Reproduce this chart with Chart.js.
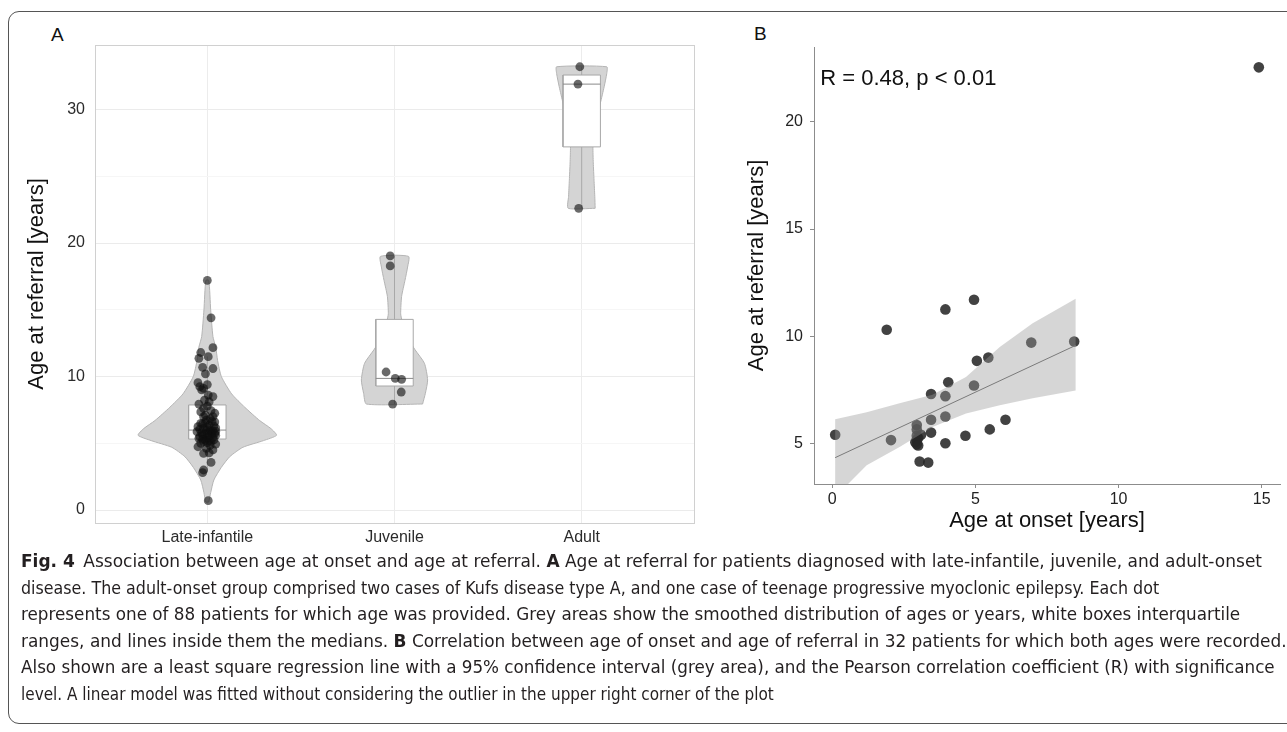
<!DOCTYPE html>
<html>
<head>
<meta charset="utf-8">
<script src="https://cdn.jsdelivr.net/npm/chart.js@4.4.1/dist/chart.umd.min.js"></script>
<style>
  body { margin: 0; width: 1287px; height: 732px; overflow: hidden; background: #fff;
         font-family: "Liberation Sans", Arial, sans-serif; position: relative; }
  #frame { position: absolute; left: 8px; top: 11px; width: 1310px; height: 711px;
           border: 1.3px solid #555; border-radius: 11px; }
  .panel { position: absolute; top: 0; }
  .lab { position: absolute; font-size: 19px; color: #111; line-height: 19px; }
  #caption { position: absolute; left: 21px; top: 548px; color: #231f20;
             font-family: "Liberation Sans Narrow", "DejaVu Sans Condensed", "Liberation Sans", sans-serif;
             font-size: 18px; }
  #caption div { white-space: nowrap; height: 26.6px; line-height: 26.6px; transform-origin: 0 50%; }
  #caption span { display: inline-block; }
</style>
</head>
<body>
<div id="frame"></div>
<div class="lab" style="left:51px;top:25px">A</div>
<div class="lab" style="left:754px;top:24px">B</div>
<canvas id="violin" class="panel" style="left:0px" width="720" height="560"></canvas>
<canvas id="onset" class="panel" style="left:740px" width="547" height="540"></canvas>
<div id="caption">
  <div><span><b>Fig. 4</b>&ensp;Association between age at onset and age at referral. <b>A</b> Age at referral for patients diagnosed with late-infantile, juvenile, and adult-onset</span></div>
  <div><span>disease. The adult-onset group comprised two cases of Kufs disease type A, and one case of teenage progressive myoclonic epilepsy. Each dot</span></div>
  <div><span>represents one of 88 patients for which age was provided. Grey areas show the smoothed distribution of ages or years, white boxes interquartile</span></div>
  <div><span>ranges, and lines inside them the medians. <b>B</b> Correlation between age of onset and age of referral in 32 patients for which both ages were recorded.</span></div>
  <div><span>Also shown are a least square regression line with a 95% confidence interval (grey area), and the Pearson correlation coefficient (R) with significance</span></div>
  <div><span>level. A linear model was fitted without considering the outlier in the upper right corner of the plot</span></div>
</div>
<script>
// ---- panel A : age at referral per onset group ----
var groups = ['Late-infantile', 'Juvenile', 'Adult'];

// individual ages (years) and horizontal jitter
var lateAges = [17.2, 14.4, 12.16, 11.8, 11.36, 11.49, 10.69, 10.6, 9.54, 9.24, 9.11, 9.0, 8.61, 8.24, 8.11,
  7.94, 7.79, 7.44, 7.62, 6.99, 6.99, 6.74, 6.49, 6.37, 6.24, 6.12, 5.94, 5.74, 5.87, 5.62, 5.74, 5.37,
  5.24, 5.12, 5.0, 4.94, 4.74, 4.62, 4.24, 4.29, 3.57, 3.0, 2.8, 0.7, 6.85, 6.6, 6.55, 6.3, 6.2, 6.05,
  6.0, 5.95, 5.85, 5.8, 5.7, 5.65, 5.55, 5.5, 5.45, 5.4, 5.3, 5.25, 5.2, 5.15, 5.05, 5.9, 6.15, 6.45,
  7.1, 7.25, 7.35, 6.65, 5.6, 4.85, 4.5, 8.5, 9.4, 10.2];
var lateJitter = [0, 0.02, 0.03, -0.035, -0.045, 0.005, -0.025, 0.03, -0.05, -0.04, -0.02, -0.03, 0.005, -0.015, 0.01,
  -0.045, 0, 0.02, -0.02, 0.03, -0.02, -0.005, -0.035, 0.01, -0.05, -0.02, 0.03, 0.04, -0.055, -0.025, 0, -0.045,
  -0.01, 0.02, -0.035, 0.045, -0.05, -0.005, -0.02, 0.01, 0.02, -0.02, -0.025, 0.005, 0.015, 0.04, -0.01, 0.035, 0, -0.04,
  0.015, -0.005, 0.02, -0.03, 0.025, -0.015, 0.01, -0.04, 0.03, 0, -0.025, 0.035, 0.01, -0.02, 0, 0.045, 0.045, -0.025,
  -0.01, 0.04, -0.035, 0.025, 0.045, 0.015, 0.03, 0.03, 0, -0.01];
var juvAges = [19.03, 18.28, 10.34, 9.86, 9.79, 8.84, 7.94];
var juvJitter = [-0.023, -0.023, -0.045, 0.004, 0.038, 0.036, -0.01];
var adultAges = [33.2, 31.9, 22.6];
var adultJitter = [-0.01, -0.02, -0.016];

// box plot summaries
var boxQ1 = [5.32, 9.29, 27.2];
var boxMedian = [5.99, 9.86, 31.9];
var boxQ3 = [7.87, 14.28, 32.58];
var whiskerLow = [2.8, 7.94, 22.6];
var whiskerHigh = [11.5, 19.0, 33.2];

// smoothed density: half-width of each violin at given ages
var lateDensAge = [0.6, 1.3, 2.25, 3.2, 4.0, 4.7, 5.2, 5.6, 6.1, 6.7, 7.7, 8.7, 10.0, 11.2, 12.2, 13.0, 15.0, 17.2];
var lateDensW = [0.008, 0.018, 0.035, 0.075, 0.12, 0.19, 0.30, 0.37, 0.34, 0.28, 0.20, 0.13, 0.075, 0.055, 0.045, 0.03, 0.018, 0.008];
var juvDensAge = [7.94, 8.74, 9.74, 10.99, 12.0, 12.8, 13.5, 14.2, 14.7, 16.0, 17.2, 18.2, 19.0];
var juvDensW = [0.15, 0.165, 0.177, 0.16, 0.11, 0.075, 0.055, 0.04, 0.033, 0.038, 0.056, 0.07, 0.075];
var adultDensAge = [22.6, 23.5, 24.7, 26.0, 27.2, 28.5, 29.5, 30.5, 31.7, 32.7, 33.2];
var adultDensW = [0.072, 0.07, 0.066, 0.062, 0.06, 0.065, 0.08, 0.1, 0.12, 0.134, 0.134];

var yTicksA = [0, 5, 10, 15, 20, 25, 30];

// ---- panel B : age at onset vs age at referral ----
var onsetAge = [0.1, 2.05, 1.9, 2.95, 2.95, 2.95, 2.95, 2.95, 3.1, 3.45, 3.45, 3.45, 3.05, 3.35, 3.95, 3.95,
  3.95, 4.05, 3.95, 4.65, 4.95, 4.95, 5.05, 5.45, 5.5, 6.05, 6.95, 8.45, 2.9, 3.0, 3.0, 14.9];
var referralAge = [5.4, 5.15, 10.3, 5.85, 5.65, 5.35, 5.15, 4.95, 5.4, 5.5, 6.1, 7.3, 4.15, 4.1, 6.25, 7.2,
  5.0, 7.85, 11.25, 5.35, 7.7, 11.7, 8.85, 9.0, 5.65, 6.1, 9.7, 9.75, 5.05, 5.25, 4.9, 22.55];
var fitOnset = [0.1, 8.5];
var fitReferral = [4.33, 9.57];
var bandOnset = [0.1, 1.2, 2.35, 3.5, 4.67, 5.85, 7.0, 8.5];
var bandUpper = [6.12, 6.45, 6.87, 7.27, 8.1, 9.49, 10.6, 11.75];
var bandLower = [2.5, 3.97, 4.83, 5.76, 6.39, 6.78, 7.1, 7.46];
var xTicksB = [0, 5, 10, 15];
var yTicksB = [5, 10, 15, 20];
var corrText = 'R = 0.48, p < 0.01';

var FONT = '"Liberation Sans", Arial, sans-serif';
var boxHalf = 0.1;

function violinShape(pos, ages, widths) {
  var right = ages.map(function (a, i) { return {x: pos + widths[i], y: a}; });
  var left = ages.map(function (a, i) { return {x: pos - widths[i], y: a}; }).reverse();
  var pts = right.concat(left);
  pts.push(pts[0]);
  return pts;
}

function boxShape(i) {
  var p = i + 1;
  return [{x: p - boxHalf, y: boxQ1[i]}, {x: p + boxHalf, y: boxQ1[i]}, {x: p + boxHalf, y: boxQ3[i]},
          {x: p - boxHalf, y: boxQ3[i]}, {x: p - boxHalf, y: boxQ1[i]}];
}

var densAges = [lateDensAge, juvDensAge, adultDensAge];
var densW = [lateDensW, juvDensW, adultDensW];
var ages = [lateAges, juvAges, adultAges];
var jitter = [lateJitter, juvJitter, adultJitter];

var datasetsA = [];
groups.forEach(function (g, i) {
  datasetsA.push({
    type: 'line', order: 4, data: violinShape(i + 1, densAges[i], densW[i]),
    fill: 'shape', backgroundColor: '#d4d4d4', borderColor: '#b4b4b4', borderWidth: 1,
    pointRadius: 0, tension: 0.2
  });
  datasetsA.push({
    type: 'line', order: 3, data: [{x: i + 1, y: whiskerLow[i]}, {x: i + 1, y: whiskerHigh[i]}],
    borderColor: '#a8a8a8', borderWidth: 1, pointRadius: 0, fill: false
  });
  datasetsA.push({
    type: 'line', order: 2, data: boxShape(i),
    fill: 'shape', backgroundColor: '#ffffff', borderColor: '#a8a8a8', borderWidth: 1, pointRadius: 0
  });
  datasetsA.push({
    type: 'line', order: 1, data: [{x: i + 1 - boxHalf, y: boxMedian[i]}, {x: i + 1 + boxHalf, y: boxMedian[i]}],
    borderColor: '#8a8a8a', borderWidth: 1, pointRadius: 0, fill: false
  });
  datasetsA.push({
    type: 'scatter', order: 0,
    data: ages[i].map(function (a, k) { return {x: i + 1 + jitter[i][k], y: a}; }),
    pointRadius: 4.4, pointBorderWidth: 0, pointBackgroundColor: 'rgba(15,15,15,0.62)'
  });
});

var chartA = new Chart(document.getElementById('violin'), {
  type: 'scatter',
  data: { datasets: datasetsA },
  options: {
    responsive: false, animation: false,
    layout: { padding: { top: 45, right: 26, left: 0, bottom: 0 } },
    plugins: { legend: { display: false }, tooltip: { enabled: false } },
    scales: {
      x: {
        type: 'linear', min: 0.4, max: 3.6,
        afterBuildTicks: function (s) { s.ticks = groups.map(function (g, i) { return {value: i + 1}; }); },
        afterFit: function (s) { s.height = 37; },
        ticks: { autoSkip: false, maxRotation: 0, padding: 5, color: '#2b2b2b', font: { family: FONT, size: 16 },
                 callback: function (v) { return groups[v - 1]; } },
        grid: { color: '#ececec', drawTicks: false },
        border: { color: '#d0d0d0' }
      },
      y: {
        type: 'linear', min: -0.97, max: 34.83,
        afterBuildTicks: function (s) { s.ticks = yTicksA.map(function (v) { return {value: v}; }); },
        afterFit: function (s) { s.width = 95; },
        ticks: { autoSkip: false, padding: 10, color: '#2b2b2b', font: { family: FONT, size: 16 },
                 callback: function (v) { return v % 10 === 0 ? v : ''; } },
        grid: { drawTicks: false, color: function (c) { return c.tick && c.tick.value % 10 === 0 ? '#ebebeb' : '#f6f6f6'; } },
        border: { color: '#d0d0d0' },
        title: { display: true, text: 'Age at referral [years]', color: '#111',
                 font: { family: FONT, size: 22 }, padding: { top: 24, bottom: 0 } }
      },
      x2: {
        type: 'linear', position: 'top', min: 0, max: 1,
        ticks: { display: false }, grid: { drawOnChartArea: false, drawTicks: false },
        border: { color: '#d0d0d0' }, afterFit: function (s) { s.height = 0; }
      },
      y2: {
        type: 'linear', position: 'right', min: 0, max: 1,
        ticks: { display: false }, grid: { drawOnChartArea: false, drawTicks: false },
        border: { color: '#d0d0d0' }, afterFit: function (s) { s.width = 0; }
      }
    }
  }
});

// ---- panel B chart ----
var corrLabel = {
  id: 'corrLabel',
  afterDatasetsDraw: function (chart) {
    var ctx = chart.ctx;
    ctx.save();
    ctx.font = '22px ' + FONT;
    ctx.fillStyle = '#111';
    ctx.textBaseline = 'middle';
    ctx.fillText(corrText, chart.scales.x.getPixelForValue(-0.42), chart.scales.y.getPixelForValue(22.0));
    ctx.restore();
  }
};

var band = bandOnset.map(function (x, i) { return {x: x, y: bandUpper[i]}; })
  .concat(bandOnset.map(function (x, i) { return {x: x, y: bandLower[i]}; }).reverse());

var chartB = new Chart(document.getElementById('onset'), {
  type: 'scatter',
  data: {
    datasets: [{
      type: 'line', order: 0,
      data: fitOnset.map(function (x, i) { return {x: x, y: fitReferral[i]}; }),
      borderColor: '#7a7a7a', borderWidth: 1, pointRadius: 0, fill: false
    }, {
      type: 'line', order: 1, data: band, fill: 'shape',
      backgroundColor: 'rgba(153,153,153,0.4)', borderWidth: 0, pointRadius: 0
    }, {
      type: 'scatter', order: 2,
      data: onsetAge.map(function (x, i) { return {x: x, y: referralAge[i]}; }),
      pointRadius: 5.3, pointBorderWidth: 0, pointBackgroundColor: 'rgba(40,40,40,0.88)'
    }]
  },
  options: {
    responsive: false, animation: false,
    layout: { padding: { top: 47, right: 7, left: 0, bottom: 0 } },
    plugins: { legend: { display: false }, tooltip: { enabled: false } },
    scales: {
      x: {
        type: 'linear', min: -0.64, max: 15.64,
        afterBuildTicks: function (s) { s.ticks = xTicksB.map(function (v) { return {value: v}; }); },
        afterFit: function (s) { s.height = 56; },
        ticks: { autoSkip: false, maxRotation: 0, padding: 2, color: '#222', font: { family: FONT, size: 16 } },
        grid: { drawOnChartArea: false, tickLength: 4, color: '#8c8c8c' },
        border: { color: '#8c8c8c' },
        title: { display: true, text: 'Age at onset [years]', color: '#111',
                 font: { family: FONT, size: 22 }, padding: { top: 0, bottom: 6 } }
      },
      y: {
        type: 'linear', min: 3.1, max: 23.5,
        afterBuildTicks: function (s) { s.ticks = yTicksB.map(function (v) { return {value: v}; }); },
        afterFit: function (s) { s.width = 74; },
        ticks: { autoSkip: false, padding: 7, color: '#222', font: { family: FONT, size: 16 } },
        grid: { drawOnChartArea: false, tickLength: 4, color: '#8c8c8c' },
        border: { color: '#8c8c8c' },
        title: { display: true, text: 'Age at referral [years]', color: '#111',
                 font: { family: FONT, size: 22 }, padding: { top: 4, bottom: 0 } }
      }
    }
  },
  plugins: [corrLabel]
});

// squeeze caption lines towards the widths they have in the printed caption,
// keeping the squeeze close to uniform so the letters look alike
var capEnds = [1241, 1064, 1205, 1262, 1237, 676];
var capRows = document.querySelectorAll('#caption div');
var widths = [];
capRows.forEach(function (d) { widths.push(d.querySelector('span').getBoundingClientRect().width); });
var uniform = capEnds[0] / widths[0];
capRows.forEach(function (d, i) {
  var k = Math.sqrt(uniform * capEnds[i] / widths[i]);
  d.style.transform = 'scaleX(' + Math.min(k, uniform * 1.02) + ')';
});
</script>
</body>
</html>
